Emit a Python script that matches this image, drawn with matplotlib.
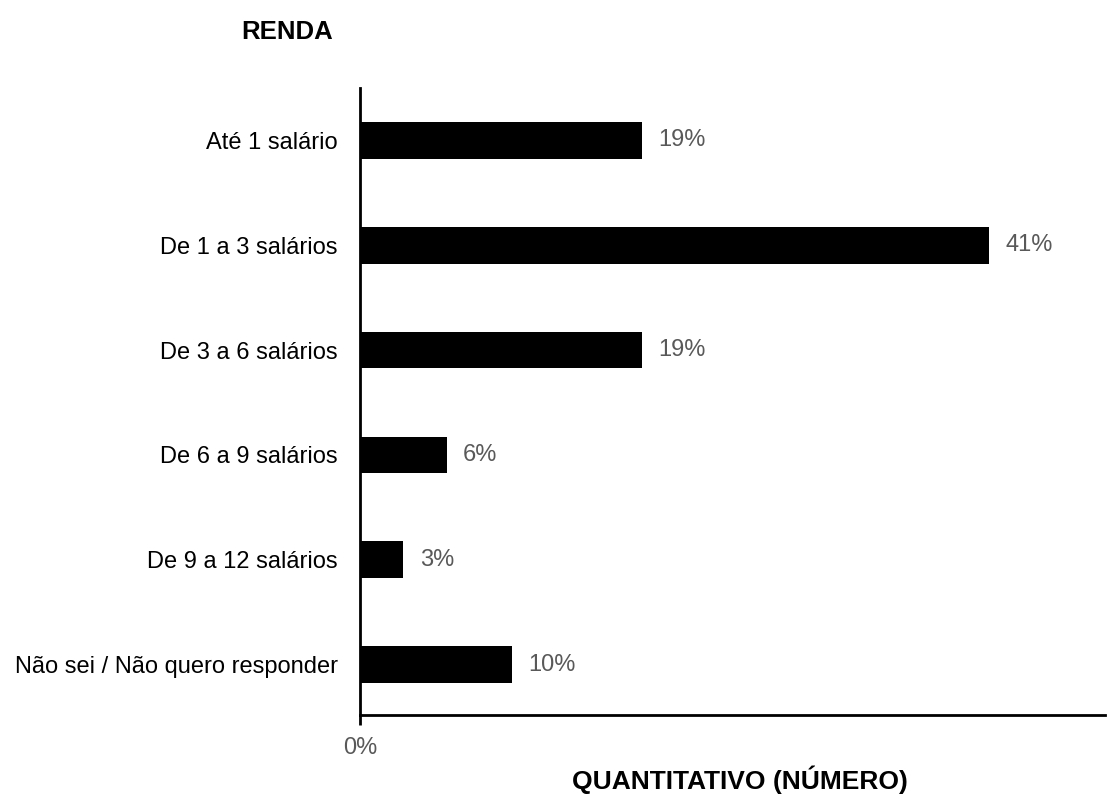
import matplotlib.pyplot as plt

plt.rcParams['font.family'] = ['Liberation Sans', 'DejaVu Sans']

categorias = ['Até 1 salário', 'De 1 a 3 salários', 'De 3 a 6 salários',
              'De 6 a 9 salários', 'De 9 a 12 salários', 'Não sei / Não quero responder']
quantidade = [13, 29, 13, 4, 2, 7]
rotulos = ['19%', '41%', '19%', '6%', '3%', '10%']

fig = plt.figure(figsize=(11.07, 7.96), dpi=100)
ax = fig.add_axes([0.3252, 0.1018, 0.673, 0.7876])

pos = list(range(len(categorias)))
bars = ax.barh(pos, quantidade, height=0.35, color='black')

for b, r in zip(bars, rotulos):
    ax.text(b.get_width() + 0.75, b.get_y() + b.get_height() / 2, r,
            va='center', ha='left', fontsize=17, color='#595959')

ax.set_yticks(pos)
ax.set_yticklabels(categorias, fontsize=17)
ax.tick_params(axis='y', length=0, pad=16)
ax.set_ylim(5.48, -0.5)
ax.set_xlim(0, 34.35)
ax.set_xticks([0])
ax.set_xticklabels(['0%'], color='#595959', fontsize=17)
ax.tick_params(axis='x', length=7, width=2, pad=9)

for s in ['top', 'right']:
    ax.spines[s].set_visible(False)
for s in ['left', 'bottom']:
    ax.spines[s].set_linewidth(2)

fig.text(0.6685, 0.0201, 'QUANTITATIVO (NÚMERO)', fontsize=19, fontweight='bold',
         ha='center', va='center')
fig.text(0.2593, 0.96, 'RENDA', fontsize=18.5, fontweight='bold', ha='center', va='center')

plt.savefig('out.png', dpi=100)
